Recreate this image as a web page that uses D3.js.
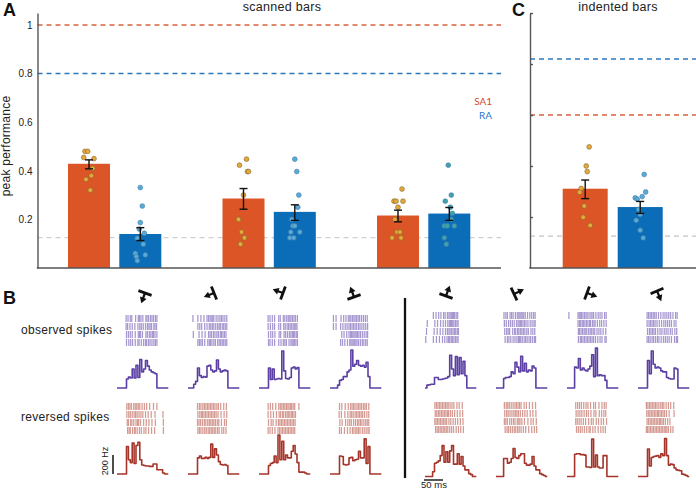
<!DOCTYPE html>
<html><head><meta charset="utf-8">
<script src="https://cdn.jsdelivr.net/npm/d3@7/dist/d3.min.js"></script>
<style>html,body{margin:0;padding:0;background:#fff}svg{display:block}text{font-family:"Liberation Sans",Arial,sans-serif;fill:#222}</style>
</head><body><svg id="c" width="696" height="489"></svg>
<script>
// ---------- data ----------
const scannedMeans=[0.429,0.14,0.286,0.231,0.216,0.224];
const scannedLow=[0.408,0.113,0.242,0.196,0.19,0.196];
const scannedHigh=[0.445,0.166,0.327,0.26,0.238,0.249];
const scannedDots=[
 [.48,.48,.455,.45,.41,.38,.365,.32],
 [.331,.255,.187,.16,.143,.122,.098,.06,.054,.047,.03],
 [.448,.423,.397,.397,.3,.2,.148,.124,.098],
 [.448,.397,.3,.25,.2,.173,.173,.148,.148,.124,.124],
 [.325,.275,.275,.275,.25,.2,.148,.148,.124,.124],
 [.423,.3,.275,.25,.225,.2,.173,.173,.173,.124,.098]];
const scannedJitter=[
 [-4,-1.3,-5.3,5,3.7,2.3,-3,1.3],
 [0,2,0,-1,4,-3,3,-5,5,-4,-3],
 [3,-4,4,5,0,-5,-2,1,-3],
 [0,2,4,3,-3,-2,0,-4,5,-5,-1],
 [4,-4,-2,5,0,-3,-1,2,-6,3],
 [-1,2,-4,1,3,2,-5,-2,5,-5,-3]];
const scannedRefs=[1,0.8,0.125];
const indentedMeans=[0.311,0.239];
const indentedLow=[0.272,0.214];
const indentedHigh=[0.345,0.261];
const indentedDots=[
 [.475,.4,.378,.312,.297,.243,.199,.167],
 [.367,.298,.28,.275,.27,.23,.21,.187,.148,.118]];
const indentedJitter=[
 [4,1,2,-4,-5.5,-1,-2,5],
 [4,5.5,2,-5,-3,-1.5,0,-4,0,3]];
const indentedRefs=[0.82,0.6,0.125];
const yTicks=[0.2,0.4,0.6,0.8,1];
const arrowHeadings=[200,248,290,340,20,65,110,157];
const psthObserved=[
 [0,0,0,0,0,95,115,105,200,105,240,110,300,170,200,290,230,190,170,160,150,0,0,0,0,0,0,0],
 [0,0,0,40,70,210,130,110,120,115,230,240,190,170,180,295,200,170,180,190,180,0,0,0,0,0,0,0],
 [0,0,0,0,0,210,90,200,90,95,100,95,390,180,100,95,110,210,220,200,215,0,0,0,0,0,0,0],
 [0,0,0,0,30,80,90,120,120,170,190,400,230,250,290,240,230,240,220,270,120,0,0,0,0,0,0,0],
 [0,30,35,40,40,110,110,90,90,95,100,105,120,345,200,130,330,140,320,150,280,130,0,0,0,0,0,0],
 [0,0,0,0,100,110,110,120,170,150,270,220,170,335,180,260,170,190,180,230,210,0,0,0,0,0,0,0],
 [0,0,0,0,220,210,310,190,210,190,180,200,230,350,120,420,130,140,130,130,80,0,0,0,0,0,0,0],
 [0,0,0,0,0,290,150,390,250,210,220,210,180,170,170,110,100,95,95,210,200,0,0,0,0,0,0,0]];
const psthReversed=[
 [0,0,0,0,0,290,150,120,325,110,300,335,150,95,90,85,85,80,80,105,105,45,45,45,10,0,0,0],
 [0,0,0,0,0,170,190,165,165,175,165,175,315,175,265,200,130,100,95,100,90,0,0,0,0,0,0,0],
 [0,0,0,0,0,90,110,120,190,120,410,150,345,150,200,170,170,240,300,210,120,20,20,20,10,0,0,0],
 [0,0,0,0,0,190,185,100,95,100,170,175,140,150,155,240,170,170,370,110,290,0,0,0,0,0,0,0],
 [0,0,0,0,50,140,150,165,220,325,150,260,150,270,325,130,130,240,130,210,110,70,70,30,20,0,0,0],
 [0,0,0,0,190,190,140,150,190,295,200,190,220,240,240,140,120,120,130,210,110,70,70,30,20,10,0,0],
 [0,0,0,0,235,240,240,230,230,225,100,100,95,395,100,225,100,90,90,220,220,0,0,0,0,0,0,0],
 [0,0,0,0,0,290,110,200,210,215,220,200,240,220,400,220,120,130,125,90,70,65,60,25,20,10,0,0]];
const rasterObserved=[
 [[24,29,35,39,49,56,59,63,68,76,79,83,88,92,96,101,105],[24,28,34,40,47,55,60,64,69,75,80,84,87,91,97,100,104],[25,30,35,40,48,56,59,62,67,76,80,85,89,93,96,100,105],[25,31,36,41,48,55,58,64,70,75,78,83,87,92,97,101,105]],
 [[13,26,34,42,50,54,58,61,65,68,74,79,84,88,92,97,102],[26,31,36,44,50,56,60,64,68,73,78,82,85,90,94,98,102],[14,29,37,45,54,58,62,67,71,76,80,85,88,92,96,100],[26,30,34,38,44,52,56,59,63,68,72,78,82,86,90,94,98,102]],
 [[24,29,35,41,52,56,64,68,73,77,81,84,88,92,96,101],[24,30,36,41,52,57,65,69,74,78,82,86,90,94,97,100],[25,31,36,42,53,57,66,70,75,80,84,88,91,94,98,101],[25,29,35,41,52,58,64,68,72,79,84,87,90,93,97,101]],
 [[9,16,29,36,42,48,52,55,59,63,66,70,74,78,83,88,93,98],[9,16,28,34,40,45,50,54,58,62,66,70,75,79,84,89,94,99],[31,37,44,50,54,57,60,63,66,69,72,76,80,85,90,95,99],[28,33,39,46,52,55,58,61,64,68,71,75,80,85,89,94,98]],
 [[22,29,36,42,49,53,59,63,66,69,72,75,78,82,86],[6,26,33,41,48,54,60,64,67,70,73,76,80,84,87],[4,24,32,40,47,54,59,63,66,70,74,78,81,85,88],[2,22,30,38,46,52,58,62,65,69,72,76,80,84,87]],
 [[21,26,30,37,41,45,51,56,60,63,66,69,73,77,83,89,94,99,103],[22,27,33,38,43,48,54,58,61,64,67,71,75,79,84,90,95,100,103],[23,28,32,36,44,49,52,57,60,64,68,72,76,81,85,92,97,102],[24,30,34,39,45,50,55,59,62,65,69,74,78,82,87,91,96,101,104]],
 [[5,29,32,35,38,42,46,50,53,58,63,66,70,76,82,87,92,99,103],[29,33,36,40,43,47,51,55,59,62,67,71,74,80,86,91,97,103],[30,33,37,41,45,48,52,57,61,65,69,73,79,84,89,95,102],[30,35,38,42,46,50,54,58,62,66,70,75,81,87,92,100,103]],
 [[24,28,32,36,40,44,48,54,60,66,71,76,81,86,92,99,103],[24,29,33,37,41,45,50,56,62,68,73,78,83,88,95,100],[25,30,34,38,42,46,52,58,63,69,74,79,85,90,97,102],[24,28,32,37,41,46,51,55,61,67,72,77,82,88,96,101,104]]];
const rasterReversed=[
 [[26,30,34,38,44,48,52,56,60,66,72,78,86,96,105],[26,31,35,40,45,49,53,58,63,68,75,82,90,100,121],[27,30,36,39,44,50,54,57,62,70,77,84,92,101,122],[28,32,35,41,46,48,53,59,64,71,76,83,91,99,122]],
 [[25,30,34,39,43,47,51,55,59,63,67,71,76,80,86,94,101],[26,31,35,38,42,46,50,54,58,62,66,70,74,79,87,95,102],[25,29,33,38,43,47,52,56,60,64,68,72,77,81,88,96,101],[26,30,34,39,44,48,53,57,61,65,69,73,78,82,89,94,100]],
 [[24,30,36,44,52,56,60,64,68,72,76,79,83,86,90,94,105],[24,31,38,46,53,57,62,65,70,74,77,81,85,88,92,96],[25,32,37,45,51,55,59,63,67,71,75,79,83,87,91,95],[24,29,35,42,50,54,58,62,66,70,74,78,82,86,90,94]],
 [[25,31,40,48,54,58,62,66,71,75,79,83,88,92,96,102],[24,30,39,47,53,57,61,66,70,74,78,82,86,91,97,102],[26,32,41,47,52,56,62,67,72,76,80,84,89,94,98,102],[25,30,38,46,53,59,63,68,71,75,79,85,90,95,100,103]],
 [[26,30,34,38,42,46,50,54,58,61,66,71,76,84,90,98],[27,31,35,39,43,47,51,55,59,62,67,72,78,85,92,99],[26,29,33,37,41,45,49,53,57,63,68,74,80,86,93,100],[28,32,36,40,44,48,52,56,60,65,70,75,82,88,94,101]],
 [[22,27,31,35,40,45,50,54,58,62,66,74,80,88,96,104],[23,28,32,37,42,47,51,55,59,64,70,76,82,90,97,105],[22,26,30,36,41,46,50,56,60,63,68,75,84,92,98,106],[24,29,33,38,43,48,52,57,61,66,72,78,86,94,101,107]],
 [[23,28,33,38,44,50,55,62,70,75,84,92,98,103],[24,29,34,39,45,51,56,63,71,76,85,91,97,102],[23,27,32,37,43,49,57,64,69,77,83,90,96,104],[25,30,35,40,46,52,58,61,68,74,82,89,95,101]],
 [[22,26,30,34,38,42,46,50,55,60,64,68,74,80,86,94],[23,27,31,35,39,43,47,51,54,58,62,66,70,75,82,95],[24,28,32,36,40,44,48,52,56,59,63,67,72,78,84],[22,25,29,33,37,41,45,49,53,57,61,65,69,73,76,80,86,92]]];

// ---------- helpers ----------
const svg=d3.select("#c");
const RED="#dc5527",BLUE="#0b6cb7",AXIS="#555";
const txt=(x,y,s,size,o={})=>{const t=svg.append("text").attr("x",x).attr("y",y).attr("font-size",size).text(s);
 if(o.anchor)t.attr("text-anchor",o.anchor);if(o.weight)t.attr("font-weight",o.weight);if(o.fill)t.style("fill",o.fill);
 if(o.rotate)t.attr("transform",`rotate(${o.rotate} ${x} ${y})`);if(o.ls)t.attr("letter-spacing",o.ls);if(o.family)t.style("font-family",o.family);return t;};

function barPanel(o){
 const g=svg.append("g");
 const y=d3.scaleLinear().domain(o.domain).range([268,13]);
 o.refs.forEach((v,i)=>g.append("line").attr("x1",o.x0).attr("x2",o.x1).attr("y1",y(v)).attr("y2",y(v))
   .attr("stroke",o.refColors[i]).attr("stroke-width",i==2?1.3:1.5).attr("stroke-dasharray","5 4"));
 const fills=o.means.map((_,i)=>i%2?BLUE:RED);
 g.selectAll("rect.b").data(o.means).join("rect").attr("class","b")
  .attr("x",(d,i)=>o.barX(i)).attr("width",o.barW).attr("y",d=>y(d)).attr("height",d=>268-y(d)).attr("fill",(d,i)=>fills[i]);
 o.dots.forEach((vals,i)=>{
  const cx=o.barX(i)+o.barW/2;
  g.selectAll(null).data(vals).join("circle").attr("cx",(d,j)=>cx+o.jitter[i][j]).attr("cy",d=>y(d)).attr("r",2.4)
   .attr("fill",i%2?o.dotBlue(i):"#e3a93b").attr("stroke",i%2?"#3f7fa8":"#86682a").attr("stroke-width",.6);
  const e=g.append("g").attr("stroke","#111").attr("stroke-width",1.4);
  e.append("line").attr("x1",cx).attr("x2",cx).attr("y1",y(o.low[i])).attr("y2",y(o.high[i]));
  [o.low[i],o.high[i]].forEach(v=>e.append("line").attr("x1",cx-4).attr("x2",cx+4).attr("y1",y(v)).attr("y2",y(v)));
 });
 const ax=d3.axisLeft(y).tickValues(yTicks).tickSizeInner(o.labels?0:-3).tickSizeOuter(0).tickPadding(5)
   .tickFormat(o.labels?d3.format("~g"):"");
 const a=g.append("g").attr("transform",`translate(${o.x0},0)`).call(ax);
 a.selectAll("path,line").attr("stroke",AXIS).attr("stroke-width",1.4);
 a.selectAll("text").attr("font-size",10).style("font-family",'"Liberation Sans",sans-serif').style("fill","#222");
 g.append("line").attr("x1",o.x0-.7).attr("x2",o.x1).attr("y1",268).attr("y2",268).attr("stroke",AXIS).attr("stroke-width",1.5);
}
const pairA=d3.scaleLinear().domain([0,1]).range([68,222.5]);
barPanel({domain:[0,255/243],refs:scannedRefs,refColors:["#d9623c","#2b78bd","#cfcfcf"],x0:37.5,x1:501,
 means:scannedMeans,low:scannedLow,high:scannedHigh,dots:scannedDots,jitter:scannedJitter,barW:42,labels:true,
 barX:i=>pairA(Math.floor(i/2))+(i%2)*51.3,dotBlue:i=>i==5?"#3fa2ab":"#5aa9d6"});
const pairC=d3.scaleLinear().domain([0,1]).range([562.7,617.7]);
barPanel({domain:[0,1],refs:indentedRefs,refColors:["#2b78bd","#d9623c","#c4c4c4"],x0:530,x1:696,
 means:indentedMeans,low:indentedLow,high:indentedHigh,dots:indentedDots,jitter:indentedJitter,barW:45,labels:false,
 barX:i=>pairC(i),dotBlue:()=>"#5aa9d6"});

txt(3,16,"A",18,{weight:"bold",fill:"#111"});
txt(512,16,"C",18,{weight:"bold",fill:"#111"});
txt(3,304,"B",18,{weight:"bold",fill:"#111"});
txt(282,11,"scanned bars",12.5,{anchor:"middle",ls:.3});
txt(618,11,"indented bars",12.5,{anchor:"middle",ls:.3});
txt(10,146,"peak performance",12,{anchor:"middle",rotate:-90,ls:.25});
txt(492,105,"SA1",10,{anchor:"end",fill:"#d8492c",family:"Lato"});
txt(492,119,"RA",10,{anchor:"end",fill:"#2f78c8",family:"Lato"});
txt(21,334,"observed spikes",12,{ls:.3});
txt(21,421,"reversed spikes",12,{ls:.3});

// panel B
const colX=d3.scaleLinear().domain([0,1]).range([117,188]);
const cellX=i=>colX(i)+(i>3?24:0);
const tx=d3.scaleLinear().domain([0,140]).range([0,53.2]);
const hz=d3.scaleLinear().domain([0,200]).range([0,-19]);
const binMs=5;
const psthLine=d3.line().x((d,i)=>tx(i*binMs)).y(d=>hz(d)).curve(d3.curveStepAfter);
function rasters(data,topL,topR,color){
 data.forEach((rows,c)=>{
  const top=c>3?topR:topL;
  const ry=d3.scaleBand().domain(d3.range(4)).range([top,top+31]).paddingInner(.12);
  const g=svg.append("g").attr("transform",`translate(${cellX(c)},0)`);
  rows.forEach((r,k)=>g.selectAll(null).data(r).join("line")
    .attr("x1",d=>tx(d)).attr("x2",d=>tx(d)).attr("y1",ry(k)).attr("y2",ry(k)+ry.bandwidth())
    .attr("stroke",color).attr("stroke-width",1.25));
 });
}
function psths(data,baseL,baseR,color){
 data.forEach((v,c)=>{
  svg.append("path").attr("transform",`translate(${cellX(c)},${c>3?baseR:baseL})`)
   .attr("d",psthLine(v)).attr("fill","none").attr("stroke",color).attr("stroke-width",1.6).attr("stroke-linejoin","round");
 });
}
rasters(rasterObserved,315,312,"#a797d0");
rasters(rasterReversed,403,402,"#d59a92");
psths(psthObserved,388,388,"#5b3fa3");
psths(psthReversed,474,476.5,"#a5352a");

// glyphs
const glyphCenters=[[145,293],[214,293],[283,293],[354,297],[446,296],[514,294],[587,293],[657,291]];
arrowHeadings.forEach((h,i)=>{
 const g=svg.append("g").attr("transform",`translate(${glyphCenters[i][0]},${glyphCenters[i][1]}) rotate(${h})`);
 g.append("line").attr("x1",-7).attr("x2",7).attr("y1",0).attr("y2",0).attr("stroke","#111").attr("stroke-width",2.8);
 g.append("line").attr("x1",0).attr("x2",0).attr("y1",0).attr("y2",-6).attr("stroke","#111").attr("stroke-width",2.2);
 g.append("path").attr("d",d3.line()([[-3.5,-5],[3.5,-5],[0,-11]])+"Z").attr("fill","#111");
});

// divider and scale bars
svg.append("line").attr("x1",405).attr("x2",405).attr("y1",298).attr("y2",478).attr("stroke","#111").attr("stroke-width",2.3);
svg.append("line").attr("x1",113).attr("x2",113).attr("y1",455).attr("y2",474).attr("stroke","#111").attr("stroke-width",1.5);
txt(108,461,"200 Hz",9,{anchor:"middle",rotate:-90});
svg.append("line").attr("x1",424).attr("x2",443).attr("y1",480).attr("y2",480).attr("stroke","#111").attr("stroke-width",1.4);
txt(434,487.5,"50 ms",9.5,{anchor:"middle"});
</script></body></html>
